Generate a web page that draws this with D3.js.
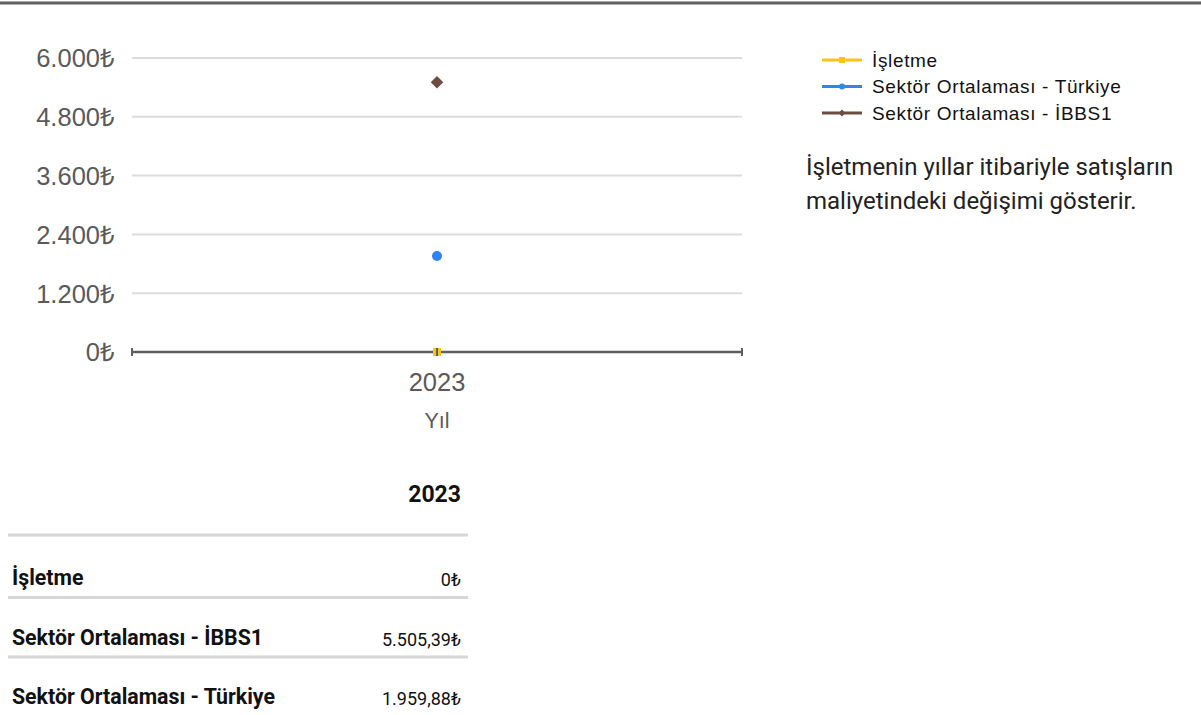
<!DOCTYPE html>
<html><head><meta charset="utf-8">
<script src="https://cdn.jsdelivr.net/npm/d3@7"></script>
<style>
html,body{margin:0;padding:0;background:#fff;}
svg{display:block;}
</style></head>
<body>
<svg id="c" width="1201" height="715"></svg>
<script>
const years = ["2023"];
const seriesNames = ["İşletme", "Sektör Ortalaması - Türkiye", "Sektör Ortalaması - İBBS1"];
const isletme = [0];
const turkiye = [1959.88];
const ibbs1 = [5505.39];
const yTicks = [0, 1200, 2400, 3600, 4800, 6000];
const tableRows = ["İşletme", "Sektör Ortalaması - İBBS1", "Sektör Ortalaması - Türkiye"];
const tableValues = ["0₺", "5.505,39₺", "1.959,88₺"];
const colors = ["#FBC31B", "#2F84F5", "#6D4C41"];
const description = ["İşletmenin yıllar itibariyle satışların", "maliyetindeki değişimi gösterir."];

const svg = d3.select("#c");
svg.append("rect").attr("x",0).attr("y",1.5).attr("width",1201).attr("height",3).attr("fill","#5f5f5f");

const x = d3.scalePoint().domain(years).range([132, 742]).padding(0.5);
const y = d3.scaleLinear().domain([0, 6000]).range([352, 58]);
const fmt = v => d3.format(",")(v).replace(/,/g, ".") + "₺";
const axisFont = "Liberation Sans, Arial, sans-serif";

// gridlines
svg.append("g").selectAll("line").data(yTicks.filter(d=>d>0)).join("line")
  .attr("x1",132).attr("x2",742).attr("y1",d=>y(d)).attr("y2",d=>y(d))
  .attr("stroke","#dcdcdc").attr("stroke-width",2);

// y labels
const yAxis = svg.append("g").attr("transform","translate(132,0)")
  .call(d3.axisLeft(y).tickValues(yTicks).tickFormat(fmt).tickSize(0).tickPadding(17));
yAxis.select(".domain").remove();
yAxis.selectAll("text").attr("font-family",axisFont).attr("font-size",25.5).attr("fill","#5a5a5a").attr("dy","0.35em");

// x axis
svg.append("line").attr("x1",132).attr("x2",742).attr("y1",y(0)).attr("y2",y(0)).attr("stroke","#5f5f5f").attr("stroke-width",2.5);
[132, 742].forEach(px => svg.append("line").attr("x1",px).attr("x2",px).attr("y1",y(0)-4).attr("y2",y(0)+4).attr("stroke","#5f5f5f").attr("stroke-width",2));

// markers
years.forEach((yr,i) => {
  const cx = x(yr);
  svg.append("rect").attr("x",cx-4).attr("y",y(isletme[i])-4).attr("width",8).attr("height",8).attr("fill",colors[0]);
  svg.append("line").attr("x1",cx).attr("x2",cx).attr("y1",y(0)-4).attr("y2",y(0)+4).attr("stroke","#5f5f5f").attr("stroke-width",2);
  svg.append("circle").attr("cx",cx).attr("cy",y(turkiye[i])).attr("r",5).attr("fill",colors[1]);
  svg.append("path").attr("d",d3.symbol(d3.symbolDiamond2, 100)()).attr("transform",`translate(${cx},${y(ibbs1[i])})`).attr("fill",colors[2]);
  svg.append("text").attr("x",cx).attr("y",382).attr("dy","0.35em").attr("text-anchor","middle").attr("font-family",axisFont).attr("font-size",25.5).attr("fill","#5a5a5a").text(yr);
});
svg.append("text").attr("x",x(years[0])).attr("y",420).attr("dy","0.35em").attr("text-anchor","middle").attr("font-family",axisFont).attr("font-size",21.5).attr("fill","#5a5a5a").text("Yıl");

// legend
const lg = svg.append("g");
seriesNames.forEach((n,i) => {
  const ly = 60 + i*26.5;
  lg.append("line").attr("x1",822).attr("x2",862).attr("y1",ly).attr("y2",ly).attr("stroke",colors[i]).attr("stroke-width",3);
  if (i===0) lg.append("rect").attr("x",839).attr("y",ly-3).attr("width",6).attr("height",6).attr("fill",colors[i]);
  else if (i===1) lg.append("circle").attr("cx",842).attr("cy",ly).attr("r",3).attr("fill",colors[i]);
  else lg.append("path").attr("d",d3.symbol(d3.symbolDiamond2,30)()).attr("transform",`translate(842,${ly})`).attr("fill",colors[i]);
  lg.append("text").attr("x",872).attr("y",ly).attr("dy","0.35em").attr("font-family",axisFont).attr("font-size",19).attr("letter-spacing","0.65px").attr("fill","#111").text(n);
});
description.forEach((t,i) => svg.append("text").attr("x",806).attr("y",167+i*33.5).attr("dy","0.35em")
  .attr("font-family","Roboto, sans-serif").attr("font-size",24).attr("fill","#222").text(t));

// table
svg.append("text").attr("x",461).attr("y",494).attr("dy","0.35em").attr("text-anchor","end")
  .attr("font-family","Roboto, sans-serif").attr("font-weight","bold").attr("font-size",23).attr("fill","#111").text(years[0]);
svg.append("line").attr("x1",8).attr("x2",468).attr("y1",535).attr("y2",535).attr("stroke","#d6d6d6").attr("stroke-width",3);
tableRows.forEach((r,i) => {
  const ry = 578 + i*59.5;
  svg.append("text").attr("x",12).attr("y",ry).attr("dy","0.35em").attr("font-family","Roboto, sans-serif").attr("font-weight","bold").attr("font-size",21.3).attr("fill","#111").text(r);
  svg.append("text").attr("x",461).attr("y",ry+2).attr("dy","0.35em").attr("text-anchor","end").attr("font-family","Roboto, sans-serif").attr("font-size",18).attr("fill","#111").text(tableValues[i]);
  if (i < tableRows.length-1) svg.append("line").attr("x1",8).attr("x2",468).attr("y1",ry+19.5).attr("y2",ry+19.5).attr("stroke","#d6d6d6").attr("stroke-width",3);
});
</script>
</body></html>
